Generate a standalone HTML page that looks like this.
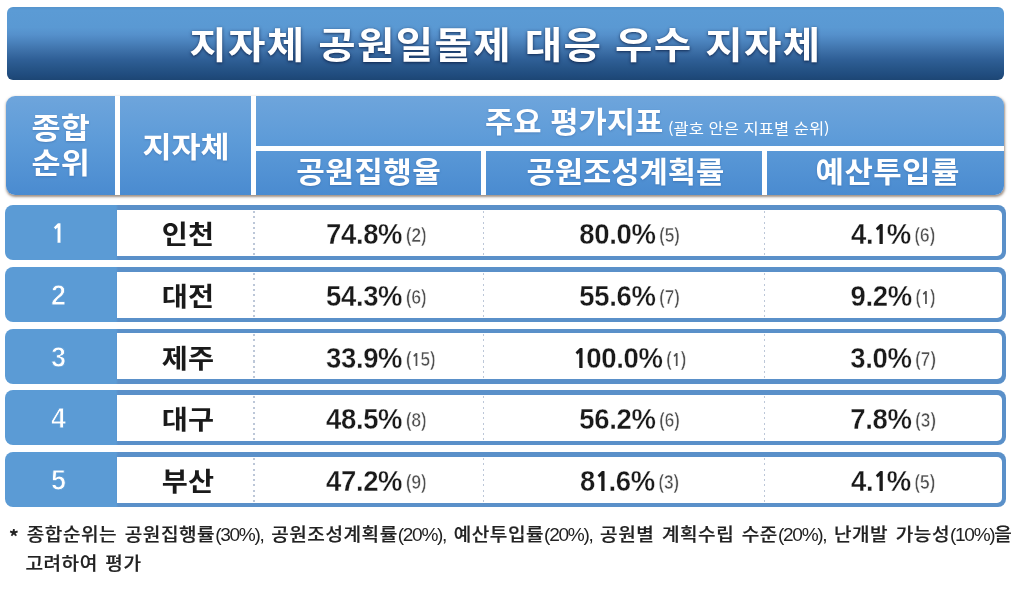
<!DOCTYPE html>
<html lang="ko">
<head>
<meta charset="utf-8">
<title>지자체 공원일몰제 대응 우수 지자체</title>
<style>
html,body{margin:0;padding:0;}
body{width:1024px;height:589px;background:#fff;position:relative;overflow:hidden;
  font-family:"Liberation Sans","Noto Sans CJK KR","NanumGothic",sans-serif;}
.abs{position:absolute;}
.kr{font-family:"Noto Sans CJK KR","NanumGothic","Liberation Sans",sans-serif;}
.sx{display:inline-block;transform:scaleX(1.09);transform-origin:50% 50%;}
#title{left:7px;top:6.5px;width:996.5px;height:73.5px;border-radius:6px;
  background:linear-gradient(to bottom,#5594cc 0%,#5b9bd5 4%,#5a99d3 28%,#5590cb 38%,#4a82bc 48%,#3d70a8 60%,#2f5f96 72%,#265487 84%,#204c7e 93%,#1d4674 100%);}
#title .t{left:0;width:100%;top:.5px;height:73.5px;line-height:73.5px;text-align:center;color:#fff;
  font-weight:700;font-size:37px;white-space:nowrap;text-shadow:0 1px 3px rgba(0,15,50,.75);}
#title .t span{display:inline-block;transform:scaleX(1.1);letter-spacing:1.2px;}
#head{left:6px;top:95.5px;width:998px;height:99px;border-radius:9px;overflow:hidden;
  background:linear-gradient(to bottom,#6ea5dc 0%,#5d9bd8 45%,#4a8bd0 100%);}
#headshadow{left:6px;top:95.5px;width:998px;height:99px;border-radius:9px;box-shadow:.5px 1.5px 2.5px rgba(80,55,35,.55);}
.wl{background:#fff;}
.h{color:#fff;font-weight:700;font-size:29px;white-space:nowrap;text-align:center;text-shadow:0 1px 2px rgba(40,80,140,.35);}
.row{left:4.5px;width:1001.5px;height:55px;border-radius:8px;background:linear-gradient(to right,#5b9bd5 0,#5b9bd5 111px,#5a90c9 113px);}
.row .w{left:112.7px;top:4.5px;width:884.6px;height:46px;background:#fff;border-radius:0 5px 5px 0;}
.row .n{left:0;width:108px;top:0;height:55px;line-height:56.5px;text-align:center;color:#fff;font-size:27px;font-weight:700;-webkit-text-stroke:.8px #5b9bd5;transform:scaleY(1.06);transform-origin:50% 50%;}
.row .c{top:0;height:55px;line-height:58.8px;white-space:nowrap;color:#1a1a1a;}
.row .city{font-weight:700;font-size:26px;line-height:55px;}
.row .v{font-size:27.5px;font-weight:700;letter-spacing:-.35px;-webkit-text-stroke:.3px #fff;transform:scaleY(1.08);transform-origin:50% 50%;}
.row .r{font-size:18px;color:#505050;-webkit-text-stroke:.65px #fff;letter-spacing:-.4px;position:relative;top:-2.2px;margin-left:-1.2px;}
.o{display:inline-block;width:13.4px;text-align:center;font-family:"NanumGothic","Liberation Sans",sans-serif;font-weight:800;font-size:24.4px;letter-spacing:0;-webkit-text-stroke:0;}
.r .o{width:9px;font-size:16px;font-weight:700;}
.n .o{width:auto;font-size:24px;-webkit-text-stroke:.3px #5b9bd5;}
.dot{width:1.8px;top:5.5px;height:44.5px;background:repeating-linear-gradient(to bottom,#bcc7d8 0,#bcc7d8 2px,rgba(255,255,255,0) 2px,rgba(255,255,255,0) 5.3px);}
#foot{left:9px;top:520.4px;font-size:18px;font-weight:500;line-height:26.6px;color:#222;-webkit-text-stroke:.2px #222;white-space:nowrap;word-spacing:1.6px;letter-spacing:.5px;transform:scaleX(1.06);transform-origin:0 0;}
#foot i{font-style:normal;font-weight:400;-webkit-text-stroke:0;font-family:"Liberation Sans",sans-serif;font-size:18px;letter-spacing:-1.23px;}
</style>
</head>
<body>
<div id="title" class="abs"><div class="t abs kr"><span>지자체 공원일몰제 대응 우수 지자체</span></div></div>

<div id="headshadow" class="abs"></div>
<div id="head" class="abs">
  <div class="abs wl" style="left:109.3px;top:0;width:4.5px;height:100%"></div>
  <div class="abs wl" style="left:245px;top:0;width:5px;height:100%"></div>
  <div class="abs wl" style="left:245px;top:50.5px;width:760px;height:5px"></div>
  <div class="abs wl" style="left:474.5px;top:50.5px;width:5px;height:50px"></div>
  <div class="abs wl" style="left:756px;top:50.5px;width:5px;height:50px"></div>
  <div class="abs h kr" style="left:0;width:110px;top:13.5px;line-height:35px"><span class="sx">종합<br>순위</span></div>
  <div class="abs h kr" style="left:113.8px;width:131.7px;top:0;line-height:98px"><span class="sx">지자체</span></div>
  <div class="abs h kr" id="hmain" style="left:478.5px;top:-.5px;line-height:50.5px;text-align:left"><span class="sx" style="transform:scaleX(1.06);transform-origin:0 50%">주요 평가지표</span></div>
  <div class="abs h kr" id="hsub" style="left:661.5px;top:7.5px;line-height:50.5px;text-align:left;font-size:15px;font-weight:400;text-shadow:none"><span class="sx" style="transform:scaleX(1.1);transform-origin:0 50%">(괄호 안은 지표별 순위)</span></div>
  <div class="abs h kr" style="left:250.5px;width:224px;top:53.5px;line-height:43px"><span class="sx" style="transform:scaleX(1.07);letter-spacing:.4px">공원집행율</span></div>
  <div class="abs h kr" style="left:481px;width:276.5px;top:53.5px;line-height:43px"><span class="sx" style="transform:scaleX(1.06)">공원조성계획률</span></div>
  <div class="abs h kr" style="left:763px;width:237px;top:53.5px;line-height:43px"><span class="sx" style="transform:scaleX(1.065);letter-spacing:.4px">예산투입률</span></div>
</div>

<div class="abs row" style="top:205.4px">
  <div class="abs w"></div>
  <div class="abs n"><span class="o">1</span></div>
  <div class="abs c city kr" style="left:113px;width:140px;text-align:center"><span class="sx">인천</span></div>
  <div class="abs dot" style="left:248.7px"></div>
  <div class="abs dot" style="left:478.2px"></div>
  <div class="abs dot" style="left:759.2px"></div>
  <div class="abs c v" style="left:321.5px;text-align:left">74.8%<span class="r"> (2)</span></div>
  <div class="abs c v" style="left:475px;width:300px;text-align:center">80.0%<span class="r"> (5)</span></div>
  <div class="abs c v" style="left:738.5px;width:300px;text-align:center">4.<span class="o">1</span>%<span class="r"> (6)</span></div>
</div>
<div class="abs row" style="top:267.05px">
  <div class="abs w"></div>
  <div class="abs n">2</div>
  <div class="abs c city kr" style="left:113px;width:140px;text-align:center"><span class="sx">대전</span></div>
  <div class="abs dot" style="left:248.7px"></div>
  <div class="abs dot" style="left:478.2px"></div>
  <div class="abs dot" style="left:759.2px"></div>
  <div class="abs c v" style="left:321.5px;text-align:left">54.3%<span class="r"> (6)</span></div>
  <div class="abs c v" style="left:475px;width:300px;text-align:center">55.6%<span class="r"> (7)</span></div>
  <div class="abs c v" style="left:738.5px;width:300px;text-align:center">9.2%<span class="r"> (<span class="o">1</span>)</span></div>
</div>
<div class="abs row" style="top:328.7px">
  <div class="abs w"></div>
  <div class="abs n">3</div>
  <div class="abs c city kr" style="left:113px;width:140px;text-align:center"><span class="sx">제주</span></div>
  <div class="abs dot" style="left:248.7px"></div>
  <div class="abs dot" style="left:478.2px"></div>
  <div class="abs dot" style="left:759.2px"></div>
  <div class="abs c v" style="left:321.5px;text-align:left">33.9%<span class="r"> (<span class="o">1</span>5)</span></div>
  <div class="abs c v" style="left:475px;width:300px;text-align:center"><span class="o">1</span>00.0%<span class="r"> (<span class="o">1</span>)</span></div>
  <div class="abs c v" style="left:738.5px;width:300px;text-align:center">3.0%<span class="r"> (7)</span></div>
</div>
<div class="abs row" style="top:390.35px">
  <div class="abs w"></div>
  <div class="abs n">4</div>
  <div class="abs c city kr" style="left:113px;width:140px;text-align:center"><span class="sx">대구</span></div>
  <div class="abs dot" style="left:248.7px"></div>
  <div class="abs dot" style="left:478.2px"></div>
  <div class="abs dot" style="left:759.2px"></div>
  <div class="abs c v" style="left:321.5px;text-align:left">48.5%<span class="r"> (8)</span></div>
  <div class="abs c v" style="left:475px;width:300px;text-align:center">56.2%<span class="r"> (6)</span></div>
  <div class="abs c v" style="left:738.5px;width:300px;text-align:center">7.8%<span class="r"> (3)</span></div>
</div>
<div class="abs row" style="top:452px">
  <div class="abs w"></div>
  <div class="abs n">5</div>
  <div class="abs c city kr" style="left:113px;width:140px;text-align:center"><span class="sx">부산</span></div>
  <div class="abs dot" style="left:248.7px"></div>
  <div class="abs dot" style="left:478.2px"></div>
  <div class="abs dot" style="left:759.2px"></div>
  <div class="abs c v" style="left:321.5px;text-align:left">47.2%<span class="r"> (9)</span></div>
  <div class="abs c v" style="left:475px;width:300px;text-align:center">8<span class="o">1</span>.6%<span class="r"> (3)</span></div>
  <div class="abs c v" style="left:738.5px;width:300px;text-align:center">4.<span class="o">1</span>%<span class="r"> (5)</span></div>
</div>

<div id="foot" class="abs kr"><span style="position:relative;top:2.2px;font-weight:700">*</span> 종합순위는 공원집행률<i>(30%),</i> 공원조성계획률<i>(20%),</i> 예산투입률<i>(20%),</i> 공원별 계획수립 수준<i>(20%),</i> 난개발 가능성<i>(10%)</i>을<br><span style="padding-left:15.5px">고려하여 평가</span></div>
</body>
</html>
